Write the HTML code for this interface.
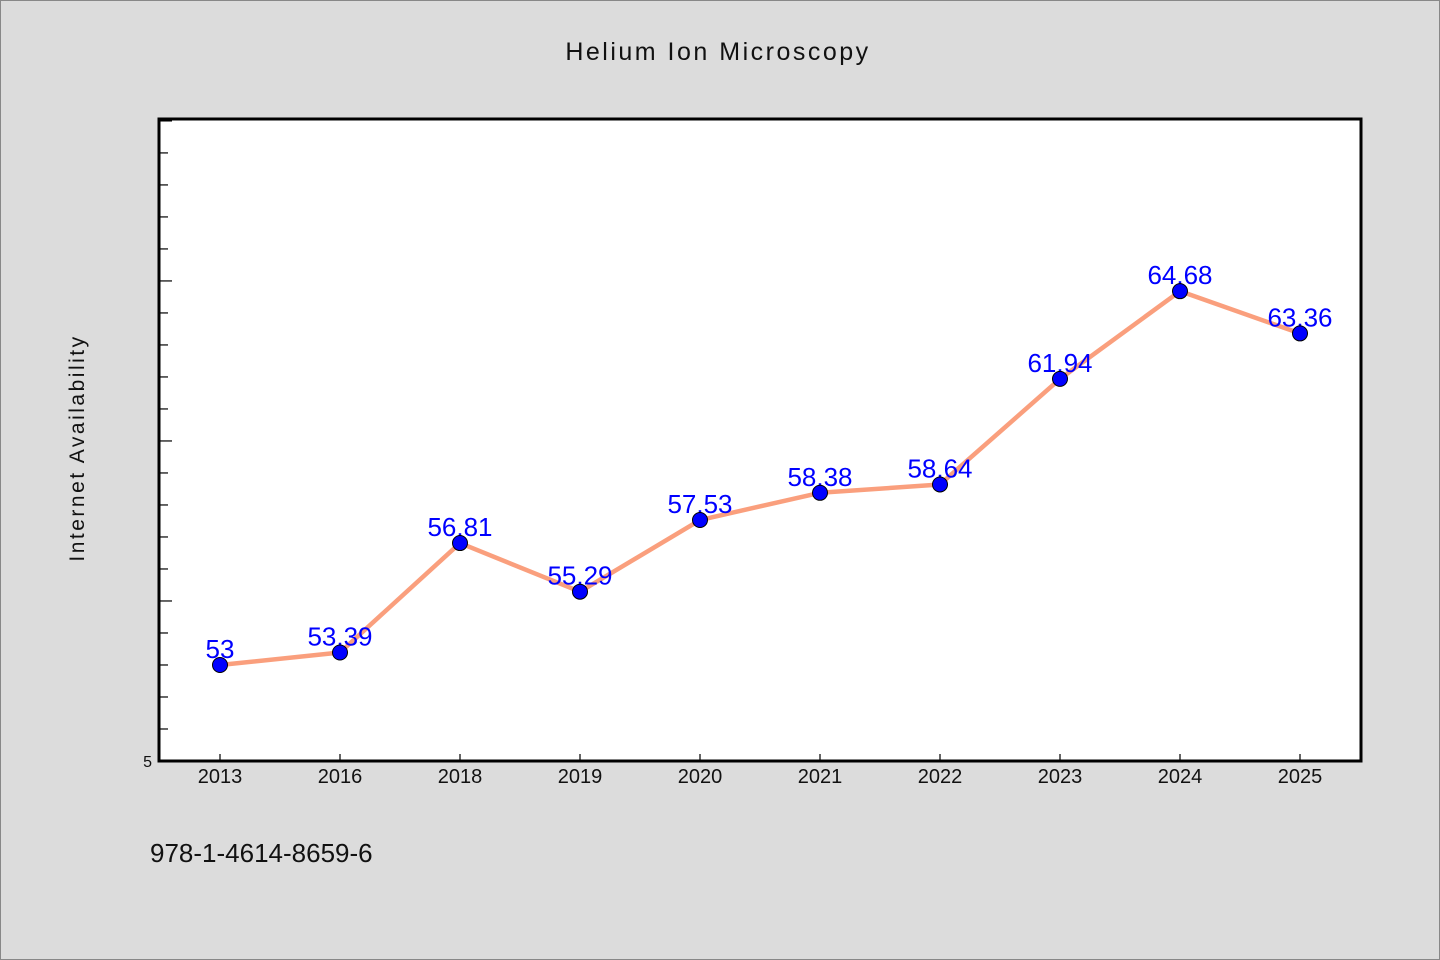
<!DOCTYPE html>
<html><head><meta charset="utf-8"><style>
html,body{margin:0;padding:0;background:#dcdcdc;}
svg{display:block;font-family:"Liberation Sans","Noto Sans CJK SC",sans-serif;}
</style></head><body>
<svg id="chart" width="1440" height="960" viewBox="0 0 1440 960">
<rect x="0.5" y="0.5" width="1439" height="959" fill="#dcdcdc" stroke="#888"/>
<text x="718" y="60" text-anchor="middle" font-size="25" letter-spacing="2.5" fill="#111">Helium Ion Microscopy</text>
<rect x="159" y="119" width="1202" height="642" fill="#fff" stroke="#000" stroke-width="3"/>
<text transform="translate(84,448) rotate(-90)" text-anchor="middle" font-size="21" letter-spacing="2.5" fill="#111">Internet Availability</text>
<text x="150" y="862" font-size="26" fill="#111">978-1-4614-8659-6</text>
<g id="yticks"></g><g id="xticks"></g><g id="series"></g>
</svg>
<script>
const categories=["2013","2016","2018","2019","2020","2021","2022","2023","2024","2025"];
const values=[53,53.39,56.81,55.29,57.53,58.38,58.64,61.94,64.68,63.36];
const valueLabels=["53","53.39","56.81","55.29","57.53","58.38","58.64","61.94","64.68","63.36"];
const yMin=50, yMax=70.06;
const bottomLabel="5";
const ns="http://www.w3.org/2000/svg";
const L=159,R=1361,T=119,B=761;
const xs=i=>220+i*120;
const ys=v=>B-(v-yMin)/(yMax-yMin)*(B-T);
function mk(tag,attrs,parent,txt){const e=document.createElementNS(ns,tag);for(const k in attrs)e.setAttribute(k,attrs[k]);if(txt!==undefined)e.textContent=txt;parent.appendChild(e);return e;}
const yt=document.getElementById('yticks');
for(let v=yMin+1;v<yMax;v++){
  const major=(v-yMin)%5===0;
  const t=mk('line',{x1:L,x2:L+(major?13:9),y1:ys(v),y2:ys(v),stroke:'#000','stroke-width':1.2},yt);
  
  
}
const bl=mk('text',{x:152,y:B+6,'text-anchor':'end','font-size':16,fill:'#111'},yt,bottomLabel);


const xt=document.getElementById('xticks');
categories.forEach((c,i)=>{
  const t=mk('line',{x1:xs(i),x2:xs(i),y1:B,y2:B-7,stroke:'#000','stroke-width':1.2},xt);
  
  
  const l=mk('text',{x:xs(i),y:B+22,'text-anchor':'middle','font-size':20,fill:'#111'},xt,c);
  
  
});
const s=document.getElementById('series');
const line=mk('polyline',{points:values.map((v,i)=>xs(i)+','+ys(v)).join(' '),fill:'none',stroke:'#fa9f7d','stroke-width':4.5,'stroke-linejoin':'round'},s);


values.forEach((v,i)=>{
  const l=mk('text',{x:xs(i),y:ys(v)-7,'text-anchor':'middle','font-size':26,fill:'#0000ff'},s,valueLabels[i]);
  
  
});
values.forEach((v,i)=>{
  const p=mk('circle',{cx:xs(i),cy:ys(v),r:7.5,fill:'#0000ff',stroke:'#000','stroke-width':1},s);
  
  
});
</script>
</body></html>
